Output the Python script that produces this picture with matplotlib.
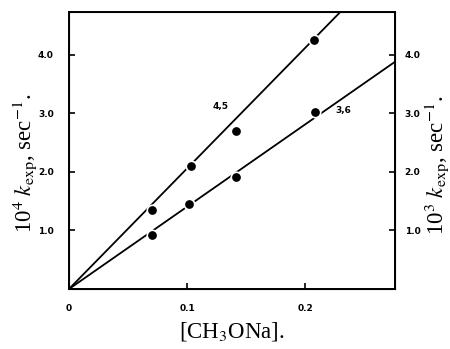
import matplotlib
matplotlib.use("Agg")
import matplotlib.pyplot as plt

plt.rcParams['font.family'] = ['Liberation Serif', 'DejaVu Serif']
plt.rcParams['mathtext.fontset'] = 'stix'

# data
conc_45 = [0.070, 0.103, 0.141, 0.207]
k_45 = [1.35, 2.10, 2.70, 4.26]
conc_36 = [0.070, 0.102, 0.141, 0.208]
k_36 = [0.92, 1.45, 1.91, 3.02]
line45_x = [0.0, 0.2297]
line45_y = [0.0, 4.73]
line36_x = [0.0, 0.276]
line36_y = [0.0, 3.88]
xticks = [0, 0.1, 0.2]
xticklabels = ['0', '0.1', '0.2']
yticks = [1.0, 2.0, 3.0, 4.0]
yticklabels = ['1.0', '2.0', '3.0', '4.0']

tickfont = dict(fontsize=6.5, fontweight='bold', family='DejaVu Sans')

fig = plt.figure(figsize=(4.5, 3.49), dpi=100)
ax = fig.add_axes([0.1533, 0.1719, 0.7245, 0.7937])
ax.plot(line45_x, line45_y, color='black', lw=1.3, zorder=2)
ax.plot(line36_x, line36_y, color='black', lw=1.3, zorder=2)
for xs, ys in [(conc_45, k_45), (conc_36, k_36)]:
    ax.plot(xs, ys, 'o', color='black', ms=7.5, mec='white', mew=1.2, zorder=3)

ax.text(0.128, 3.11, '4,5', ha='center', va='center', **tickfont)
ax.text(0.232, 3.04, '3,6', ha='center', va='center', **tickfont)

ax.set_xlim(0, 0.276)
ax.set_ylim(0, 4.73)
ax.set_xticks(xticks)
ax.set_xticklabels(xticklabels, **tickfont)
ax.set_yticks(yticks)
ax.set_yticklabels(yticklabels, **tickfont)
ax.tick_params(axis='both', direction='in', length=4, width=1.2, pad=11)
for s in ax.spines.values():
    s.set_linewidth(1.4)

ax.set_xlabel('[CH$_3$ONa].', fontsize=16.5, labelpad=5)

ax2 = ax.twinx()
ax2.set_ylim(0, 4.73)
ax2.set_yticks(yticks)
ax2.set_yticklabels(yticklabels, **tickfont)
ax2.tick_params(axis='y', direction='in', length=4, width=1.2, pad=7)

fig.text(25 / 450, 1 - 163 / 349, r'10$^4$ $k_{\rm exp}$, sec$^{-1}$.', fontsize=16.5,
         rotation=90, ha='center', va='center')
fig.text(437 / 450, 1 - 165 / 349, r'10$^3$ $k_{\rm exp}$, sec$^{-1}$.', fontsize=16.5,
         rotation=90, ha='center', va='center')

fig.savefig('out.png', dpi=100)
